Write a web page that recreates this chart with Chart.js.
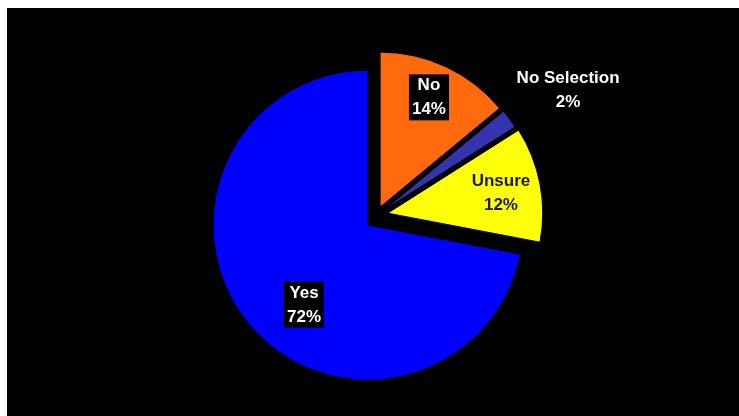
<!DOCTYPE html>
<html>
<head>
<meta charset="utf-8">
<script src="https://cdn.jsdelivr.net/npm/chart.js@4"></script>
<style>
  html, body { margin: 0; padding: 0; background: #fff; }
  #frame {
    position: absolute; left: 7px; top: 8px;
    width: 732px; height: 408px; background: #000;
  }
</style>
</head>
<body>
<div id="frame"><canvas id="pieChart"></canvas></div>
<script>
// ====== DATA ======
const categories = ["No", "No Selection", "Unsure", "Yes"];
const percents = [14, 2, 12, 72];
const sliceColors = ["#ff6a0d", "#3434b0", "#ffff0a", "#0000ff"];
// how far each slice is pulled out (px) and in which direction (deg from 12 o'clock)
const sliceShift = [21.6, 22, 23, 0];
const shiftDir = [34, 47, 59, 0];

// label placement: radial fraction of radius, angle turn (deg), boxed?, text colour
const labelStyle = [
  { frac: 0.775, turn: -1.2, box: true, color: "#fff" },
  { frac: 1.417, turn: 2.9, box: false, color: "#fff" },
  { frac: 0.742, turn: 0.8, box: false, color: "#1a1a1a" },
  { frac: 0.66, turn: -11.7, box: true, color: "#fff" }
];

const shiftVec = i => {
  const a = (shiftDir[i] - 90) * Math.PI / 180;
  return [Math.cos(a) * sliceShift[i], Math.sin(a) * sliceShift[i]];
};

// ====== EXPLODE PLUGIN ======
const explode = {
  id: "explode",
  afterDatasetUpdate(chart, args) {
    args.meta.data.forEach((arc, i) => {
      if (arc._shifted) return;
      const draw = arc.draw;
      arc.draw = function (c, area) {
        const [dx, dy] = shiftVec(i);
        c.save();
        c.translate(dx, dy);
        draw.call(this, c, area);
        c.restore();
      };
      arc._shifted = true;
    });
  }
};

// ====== LABEL PLUGIN ======
const sliceLabels = {
  id: "sliceLabels",
  afterDatasetsDraw(chart) {
    const c = chart.ctx;
    const arcs = chart.getDatasetMeta(0).data;
    c.save();
    c.font = "bold 17px 'Liberation Sans', Arial, sans-serif";
    c.textAlign = "center";
    c.textBaseline = "middle";
    arcs.forEach((arc, i) => {
      const st = labelStyle[i];
      const mid = (arc.startAngle + arc.endAngle) / 2;
      const [dx, dy] = shiftVec(i);
      const a = mid + st.turn * Math.PI / 180;
      const r = arc.outerRadius * st.frac;
      const x = arc.x + dx + Math.cos(a) * r;
      const y = arc.y + dy + Math.sin(a) * r;
      const lines = [categories[i], percents[i] + "%"];
      const lh = 24;
      if (st.box) {
        const w = Math.max(...lines.map(l => c.measureText(l).width)) + 6;
        const h = lh * lines.length - 2;
        c.fillStyle = "#000";
        c.fillRect(x - w / 2, y - h / 2, w, h);
      }
      c.fillStyle = st.color;
      lines.forEach((l, k) => {
        c.fillText(l, x, y + (k - (lines.length - 1) / 2) * lh);
      });
    });
    c.restore();
  }
};

// ====== CHART ======
const ctx = document.getElementById("pieChart").getContext("2d");
new Chart(ctx, {
  type: "pie",
  data: {
    labels: categories,
    datasets: [{
      data: percents,
      backgroundColor: sliceColors,
      borderColor: "#000",
      borderWidth: 1
    }]
  },
  options: {
    responsive: true,
    maintainAspectRatio: false,
    animation: false,
    radius: 155,
    layout: { padding: { left: 0, right: 10, top: 26, bottom: 0 } },
    plugins: {
      legend: { display: false },
      tooltip: { enabled: false }
    }
  },
  plugins: [explode, sliceLabels]
});
</script>
</body>
</html>
